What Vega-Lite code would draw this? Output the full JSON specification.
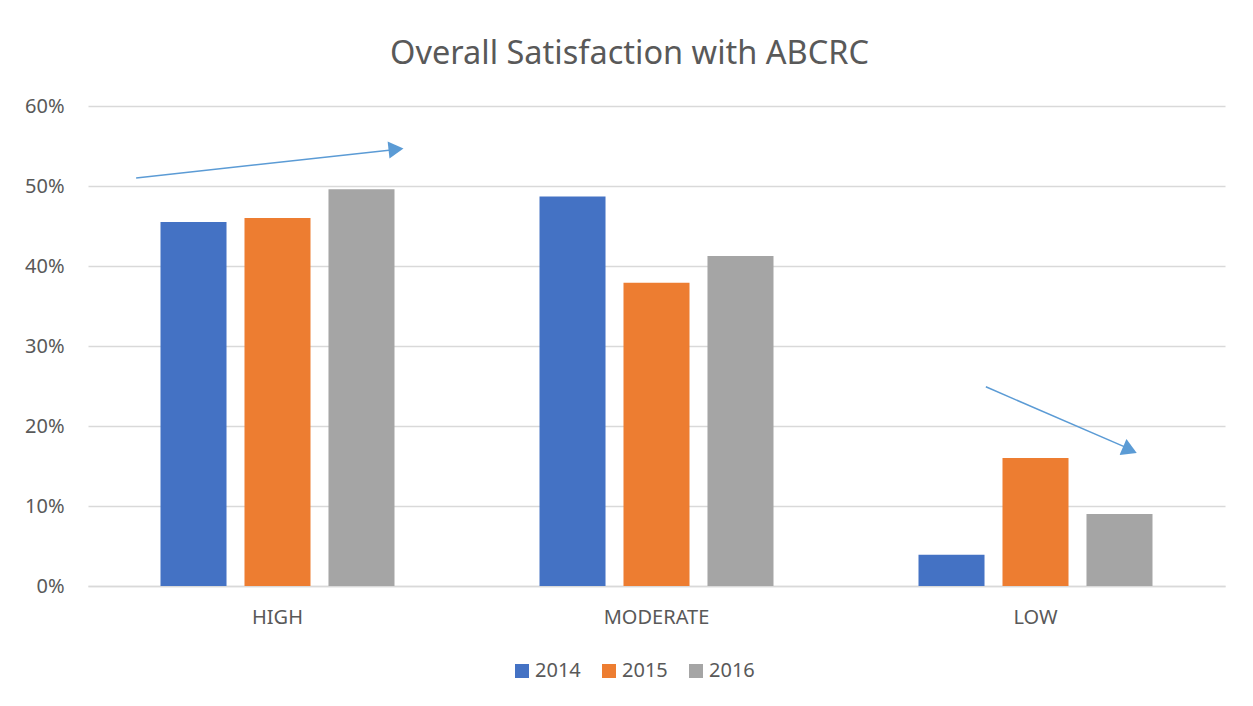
{
  "$schema": "https://vega.github.io/schema/vega-lite/v6.json",
  "width": 1137,
  "height": 480,
  "autosize": {"type": "none"},
  "padding": {"left": 88, "top": 106, "right": 28, "bottom": 120},
  "background": "white",
  "title": {
    "text": "Overall Satisfaction with ABCRC",
    "fontSize": 32.5,
    "font": "Noto Sans",
    "fontWeight": "normal",
    "color": "#595959",
    "frame": "group",
    "anchor": "middle",
    "dx": -27,
    "offset": 0,
    "baseline": "alphabetic"
  },
  "datasets": {
    "bars": [
      {"level": "HIGH", "year": "2014", "value": 0.455},
      {"level": "HIGH", "year": "2015", "value": 0.46},
      {"level": "HIGH", "year": "2016", "value": 0.496},
      {"level": "MODERATE", "year": "2014", "value": 0.487},
      {"level": "MODERATE", "year": "2015", "value": 0.379},
      {"level": "MODERATE", "year": "2016", "value": 0.4125},
      {"level": "LOW", "year": "2014", "value": 0.039},
      {"level": "LOW", "year": "2015", "value": 0.16},
      {"level": "LOW", "year": "2016", "value": 0.09}
    ],
    "arrows": [
      {"arrow": "up", "pos": 0.127, "value": 0.51},
      {"arrow": "up", "pos": 0.8, "value": 0.545},
      {"arrow": "down", "pos": 2.369, "value": 0.249},
      {"arrow": "down", "pos": 2.74, "value": 0.173}
    ],
    "heads": [
      {"arrow": "up", "pos": 0.8127, "value": 0.546},
      {"arrow": "down", "pos": 2.749, "value": 0.17}
    ]
  },
  "layer": [
    {
      "data": {"name": "bars"},
      "mark": {"type": "bar"},
      "encoding": {
        "x": {
          "field": "level",
          "type": "nominal",
          "sort": ["HIGH", "MODERATE", "LOW"],
          "scale": {"paddingInner": 0.3826, "paddingOuter": 0.1913},
          "axis": {
            "title": null,
            "labelAngle": 0,
            "labelFontSize": 20,
            "labelColor": "#595959",
            "labelFont": "Noto Sans",
            "ticks": false,
            "domainColor": "#d9d9d9",
            "domainWidth": 1.5,
            "labelPadding": 21
          }
        },
        "xOffset": {
          "field": "year",
          "type": "nominal",
          "scale": {"paddingInner": 0.214, "paddingOuter": 0}
        },
        "y": {
          "field": "value",
          "type": "quantitative",
          "scale": {"domain": [0, 0.6]},
          "axis": {
            "title": null,
            "format": ".0%",
            "values": [0, 0.1, 0.2, 0.3, 0.4, 0.5, 0.6],
            "grid": true,
            "gridColor": "#d9d9d9",
            "gridWidth": 1.5,
            "domain": false,
            "ticks": false,
            "labelPadding": 24,
            "labelFontSize": 20,
            "labelColor": "#595959",
            "labelFont": "Noto Sans"
          }
        },
        "color": {
          "field": "year",
          "type": "nominal",
          "scale": {"domain": ["2014", "2015", "2016"], "range": ["#4472c4", "#ed7d31", "#a5a5a5"]},
          "legend": {
            "title": null,
            "orient": "none",
            "legendX": 424,
            "legendY": 555,
            "direction": "horizontal",
            "symbolType": "square",
            "symbolSize": 196,
            "symbolStrokeWidth": 0,
            "labelFontSize": 20,
            "labelColor": "#595959",
            "labelFont": "Noto Sans",
            "labelOffset": 3,
            "columnPadding": 18
          }
        }
      }
    },
    {
      "data": {"name": "arrows"},
      "mark": {"type": "line", "color": "#5b9bd5", "strokeWidth": 1.5},
      "encoding": {
        "x": {"field": "pos", "type": "quantitative", "scale": {"domain": [0, 3]}, "axis": null},
        "y": {"field": "value", "type": "quantitative"},
        "detail": {"field": "arrow", "type": "nominal"}
      }
    },
    {
      "data": {"name": "heads"},
      "transform": [{"filter": "datum.arrow === 'up'"}],
      "mark": {"type": "point", "shape": "triangle-right", "filled": true, "color": "#5b9bd5", "opacity": 1, "size": 300, "angle": -6.2},
      "encoding": {
        "x": {"field": "pos", "type": "quantitative", "scale": {"domain": [0, 3]}, "axis": null},
        "y": {"field": "value", "type": "quantitative"}
      }
    },
    {
      "data": {"name": "heads"},
      "transform": [{"filter": "datum.arrow === 'down'"}],
      "mark": {"type": "point", "shape": "triangle-right", "filled": true, "color": "#5b9bd5", "opacity": 1, "size": 300, "angle": 23.5},
      "encoding": {
        "x": {"field": "pos", "type": "quantitative", "scale": {"domain": [0, 3]}, "axis": null},
        "y": {"field": "value", "type": "quantitative"}
      }
    }
  ],
  "resolve": {"scale": {"x": "independent"}},
  "config": {"view": {"stroke": null}}
}
